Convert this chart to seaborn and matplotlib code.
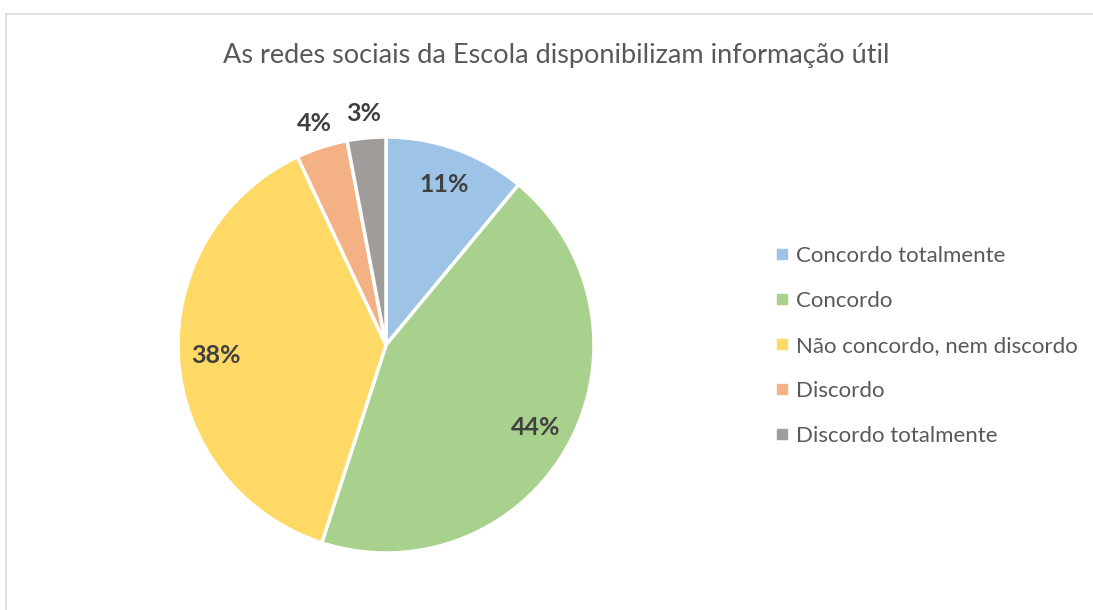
import numpy as np
import matplotlib
matplotlib.use("Agg")
import matplotlib.pyplot as plt
from matplotlib.lines import Line2D
import seaborn as sns

# data
categorias = ["Concordo totalmente", "Concordo", "Não concordo, nem discordo",
              "Discordo", "Discordo totalmente"]
percentagens = [11, 44, 38, 4, 3]
cores = ["#9DC3E6", "#A9D18E", "#FFD966", "#F4B183", "#A09C9A"]
titulo = "As redes sociais da Escola disponibilizam informação útil"

sns.set_theme(style="white")
plt.rcParams["font.family"] = ["Lato", "DejaVu Sans"]

W, H = 1093, 610
fig = plt.figure(figsize=(W / 100, H / 100), dpi=100)

# pie axes: centre ~ (386, 345) px, radius ~ 207 px
cx, cy, r = 386, 345, 208
ax = fig.add_axes([(cx - r) / W, (H - cy - r) / H, 2 * r / W, 2 * r / H])
wedges, _ = ax.pie(percentagens, colors=sns.color_palette(cores), startangle=90,
                   counterclock=False, radius=1,
                   wedgeprops=dict(edgecolor="white", linewidth=2.5))
ax.set_xlim(-1, 1)
ax.set_ylim(-1, 1)
ax.set_aspect("equal")
ax.axis("off")

for w, p in zip(wedges, percentagens):
    ang = np.deg2rad((w.theta1 + w.theta2) / 2)
    d = 0.82 if p >= 10 else 1.12
    ax.text(d * np.cos(ang), d * np.sin(ang), f"{p}%", ha="center", va="center",
            fontsize=18, fontweight="bold", color="#404040", clip_on=False)

fig.text(556 / W, 1 - 55 / H, titulo, ha="center", va="center",
         fontsize=19.5, color="#595959")

handles = [Line2D([], [], marker="s", linestyle="", markersize=7,
                  markerfacecolor=c, markeredgecolor=c) for c in cores]
fig.legend(handles, categorias, loc="center left",
           bbox_to_anchor=(765 / W, 1 - 346 / H), frameon=False,
           fontsize=16, labelcolor="#595959", handlelength=0.7,
           handletextpad=0.3, labelspacing=1.13, borderaxespad=0)

# chart border (left and top visible)
bc = "#D9D9D9"
fig.add_artist(Line2D([6 / W, 6 / W], [0, 1 - 14 / H], color=bc, lw=1.2,
                      transform=fig.transFigure))
fig.add_artist(Line2D([6 / W, 1], [1 - 14 / H, 1 - 14 / H], color=bc, lw=1.2,
                      transform=fig.transFigure))

fig.savefig("out.png", dpi=100, facecolor="white")
